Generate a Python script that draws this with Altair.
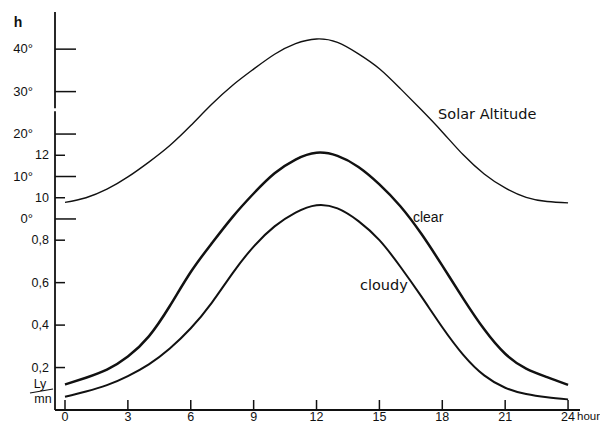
import altair as alt
import pandas as pd

# ---- data ----
hours = list(range(25))
solar_deg = [3.9, 5.0, 7.0, 9.9, 13.4, 17.3, 22.0, 27.0, 31.5, 35.3, 38.8, 41.3, 42.4,
             41.6, 38.9, 35.4, 30.7, 25.7, 20.5, 15.1, 10.6, 7.3, 5.1, 4.1, 3.8]
clear = [0.12, 0.152, 0.19, 0.252, 0.347, 0.49, 0.65, 0.785, 0.91, 1.02, 1.115, 1.18, 1.212,
         1.197, 1.145, 1.063, 0.96, 0.83, 0.68, 0.525, 0.38, 0.265, 0.195, 0.155, 0.118]
cloudy = [0.062, 0.087, 0.117, 0.16, 0.215, 0.29, 0.385, 0.505, 0.645, 0.77, 0.865, 0.93, 0.965,
          0.95, 0.89, 0.80, 0.675, 0.535, 0.39, 0.26, 0.163, 0.105, 0.075, 0.06, 0.05]

x_ticks = [0, 3, 6, 9, 12, 15, 18, 21, 24]
deg_ticks = [0, 10, 20, 30, 40]
deg_labels = ["0°", "10°", "20°", "30°", "40°"]
rad_ticks = [0.2, 0.4, 0.6, 0.8, 1.0, 1.2]
rad_labels = ["0,2", "0,4", "0,6", "0,8", "10", "12"]

series_names = ["Solar Altitude", "clear", "cloudy"]
label_hours = [17.8, 16.6, 14.07]
label_rads = [1.389, 0.903, 0.582]

# broken vertical axis: lower and upper segment (in ly/min units)
axis_seg_lo = [0.0, 1.422]
axis_seg_hi = [1.408, 1.875]

# degrees share the radiation axis: 0 deg sits at 0.9 ly/min, 10 deg per 0.2 ly/min
def deg_to_rad(d):
    return 0.9 + 0.02 * d

W, H = 525, 398
xs = alt.Scale(domain=[-0.477, 24.57], nice=False, zero=False)
ys = alt.Scale(domain=[0, 1.875], nice=False, zero=False)
INK = "#111111"

solar_df = pd.DataFrame({"hour": hours, "v": [deg_to_rad(d) for d in solar_deg]})
clear_df = pd.DataFrame({"hour": hours, "v": clear})
cloudy_df = pd.DataFrame({"hour": hours, "v": cloudy})

def curve(df, width):
    return alt.Chart(df).mark_line(color=INK, strokeWidth=width, interpolate="natural").encode(
        x=alt.X("hour:Q", scale=xs, axis=None),
        y=alt.Y("v:Q", scale=ys, axis=None),
    )

solar = curve(solar_df, 1.4)
clr = curve(clear_df, 2.5)
cld = curve(cloudy_df, 2.0)

# axis lines
x_axis = alt.Chart(pd.DataFrame({"x0": [-0.477], "x1": [24.57]})).mark_rule(
    color=INK, strokeWidth=1.8).encode(
    x=alt.X("x0:Q", scale=xs, axis=None), x2="x1:Q", y=alt.value(H))
y_axis = alt.Chart(pd.DataFrame({"y0": axis_seg_lo, "y1": axis_seg_hi})).mark_rule(
    color=INK, strokeWidth=1.8).encode(
    y=alt.Y("y0:Q", scale=ys, axis=None), y2="y1:Q", x=alt.value(0))

# x ticks + labels
xt_df = pd.DataFrame({"hour": x_ticks, "lab": [str(t) for t in x_ticks]})
x_tick = alt.Chart(xt_df).mark_rule(color=INK, strokeWidth=1.5).encode(
    x=alt.X("hour:Q", scale=xs, axis=None), y=alt.value(H), y2=alt.value(H - 10))
x_lab = alt.Chart(xt_df).mark_text(font="Liberation Sans", fontSize=12.5, color=INK,
                                   baseline="middle", align="center").encode(
    x=alt.X("hour:Q", scale=xs, axis=None), y=alt.value(H + 6.5), text="lab:N")
hour_lab = alt.Chart(pd.DataFrame({"t": ["hour"]})).mark_text(
    font="Liberation Sans", fontSize=11.5, color=INK, align="left", baseline="middle").encode(
    x=alt.value(W - 3), y=alt.value(H + 7), text="t:N")

# degree ticks + labels
dg_df = pd.DataFrame({"v": [deg_to_rad(d) for d in deg_ticks], "lab": deg_labels})
dg_tick = alt.Chart(dg_df).mark_rule(color=INK, strokeWidth=1.5).encode(
    y=alt.Y("v:Q", scale=ys, axis=None), x=alt.value(0), x2=alt.value(21))
dg_lab = alt.Chart(dg_df).mark_text(font="Liberation Sans", fontSize=13, color=INK,
                                    align="right", baseline="middle").encode(
    y=alt.Y("v:Q", scale=ys, axis=None), x=alt.value(-22), text="lab:N")

# radiation ticks + labels
rd_df = pd.DataFrame({"v": rad_ticks, "lab": rad_labels})
rd_tick = alt.Chart(rd_df).mark_rule(color=INK, strokeWidth=1.5).encode(
    y=alt.Y("v:Q", scale=ys, axis=None), x=alt.value(0), x2=alt.value(10))
rd_lab = alt.Chart(rd_df).mark_text(font="Liberation Sans", fontSize=12.5, color=INK,
                                    align="right", baseline="middle").encode(
    y=alt.Y("v:Q", scale=ys, axis=None), x=alt.value(-6), text="lab:N")

# unit labels
h_lab = alt.Chart(pd.DataFrame({"t": ["h"]})).mark_text(
    font="Liberation Sans", fontSize=14, fontWeight="bold", color=INK, align="center",
    baseline="middle").encode(x=alt.value(-37), y=alt.value(11), text="t:N")
ly_lab = alt.Chart(pd.DataFrame({"t": ["Ly"]})).mark_text(
    font="Liberation Sans", fontSize=12.5, color=INK, align="center",
    baseline="middle").encode(x=alt.value(-15), y=alt.value(372), text="t:N")
mn_lab = alt.Chart(pd.DataFrame({"t": ["mn"]})).mark_text(
    font="Liberation Sans", fontSize=12.5, color=INK, align="center",
    baseline="middle").encode(x=alt.value(-12), y=alt.value(387), text="t:N")
slash = alt.Chart(pd.DataFrame({"a": [0]})).mark_rule(color=INK, strokeWidth=1.2).encode(
    x=alt.value(-25), x2=alt.value(-2), y=alt.value(381), y2=alt.value(377))

# series labels
sl_df = pd.DataFrame({"name": series_names, "hour": label_hours, "v": label_rads})
s_lab1 = alt.Chart(sl_df[sl_df.name == "Solar Altitude"]).mark_text(
    color=INK, align="left", baseline="middle", font="DejaVu Sans", fontSize=14.5).encode(
    x=alt.X("hour:Q", scale=xs, axis=None), y=alt.Y("v:Q", scale=ys, axis=None), text="name:N")
s_lab2 = alt.Chart(sl_df[sl_df.name == "clear"]).mark_text(
    color=INK, align="left", baseline="middle", font="Liberation Sans", fontSize=14).encode(
    x=alt.X("hour:Q", scale=xs, axis=None), y=alt.Y("v:Q", scale=ys, axis=None), text="name:N")
s_lab3 = alt.Chart(sl_df[sl_df.name == "cloudy"]).mark_text(
    color=INK, align="left", baseline="middle", font="DejaVu Sans", fontSize=14.5).encode(
    x=alt.X("hour:Q", scale=xs, axis=None), y=alt.Y("v:Q", scale=ys, axis=None), text="name:N")

chart = alt.layer(
    x_axis, y_axis, x_tick, x_lab, hour_lab, dg_tick, dg_lab, rd_tick, rd_lab,
    h_lab, ly_lab, mn_lab, slash, solar, clr, cld, s_lab1, s_lab2, s_lab3,
).properties(
    width=W, height=H,
    padding={"left": 47, "top": 4, "right": 20, "bottom": 13},
    autosize=alt.AutoSizeParams(type="none"),
    background="white",
).configure_view(stroke=None)

chart.save("out.html", embed_options={"renderer": "svg", "actions": False})
